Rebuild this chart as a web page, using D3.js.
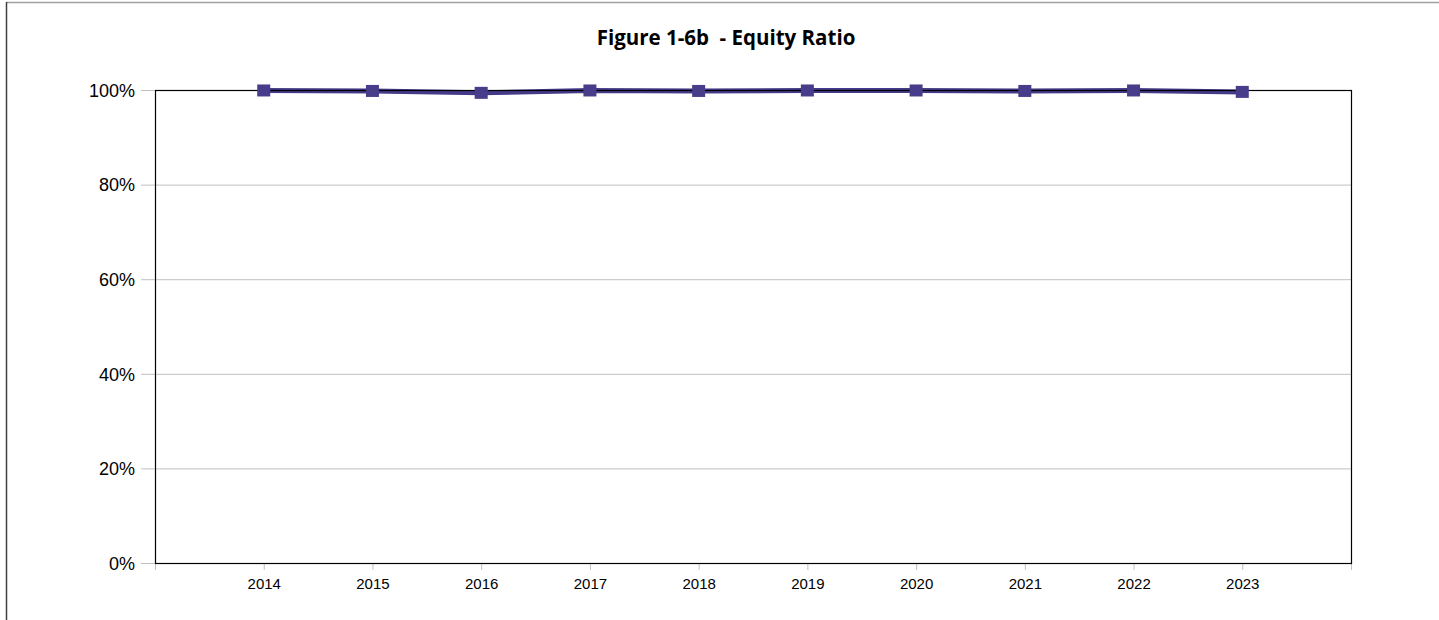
<!DOCTYPE html>
<html lang="en">
<head>
<meta charset="UTF-8">
<title>Figure 1-6b - Equity Ratio</title>
<script src="https://cdn.jsdelivr.net/npm/d3@7"></script>
<style>
  body { margin: 0; background: #fff; }
  svg { display: block; }
</style>
</head>
<body>
<div id="chart"></div>
<script>
// values (equity ratio, %)
var years = [2014, 2015, 2016, 2017, 2018, 2019, 2020, 2021, 2022, 2023];
var ratio = [99.9, 99.8, 99.4, 99.9, 99.8, 99.9, 99.9, 99.8, 99.9, 99.6];
var yTicks = [0, 20, 40, 60, 80, 100];

var W = 1439, H = 620;
var m = {left: 155, top: 90, right: 88, bottom: 57};

var svg = d3.select("#chart").append("svg").attr("width", W).attr("height", H);

// outer frame
svg.append("line").attr("x1", 6).attr("x2", W).attr("y1", 2.5).attr("y2", 2.5)
  .attr("stroke", "#a0a0a0").attr("stroke-width", 1.5);
svg.append("line").attr("x1", 6.5).attr("x2", 6.5).attr("y1", 2).attr("y2", H)
  .attr("stroke", "#404040").attr("stroke-width", 1.5);

svg.append("text").attr("x", 726).attr("y", 45).attr("text-anchor", "middle")
  .style("font-family", "'Open Sans', 'Noto Sans', sans-serif").style("font-weight", "bold")
  .style("font-size", "20.5px").attr("fill", "#000")
  .text("Figure 1-6b  - Equity Ratio").attr("xml:space", "preserve");

var x = d3.scaleLinear().domain([2013, 2024]).range([m.left, W - m.right]);
var y = d3.scaleLinear().domain([0, 100]).range([H - m.bottom, m.top]);

// gridlines + y axis
var gy = svg.append("g").attr("transform", "translate(" + m.left + ",0)")
  .call(d3.axisLeft(y).tickValues(yTicks).tickSize(14).tickFormat(function(d){ return d + "%"; }));
gy.select(".domain").remove();
gy.selectAll(".tick line").attr("stroke", "#c0c0c0");
gy.selectAll(".tick text").attr("x", -20).attr("dy", "0.35em").attr("fill", "#000")
  .style("font-family", "'Liberation Sans', Arial, sans-serif").style("font-size", "18px");
svg.append("g").selectAll("line").data(yTicks.filter(function(d){ return d > 0 && d < 100; }))
  .enter().append("line")
  .attr("x1", m.left).attr("x2", W - m.right)
  .attr("y1", function(d){ return y(d) + 0.5; }).attr("y2", function(d){ return y(d) + 0.5; })
  .attr("stroke", "#c0c0c0");

// x axis
var gx = svg.append("g").attr("transform", "translate(0," + (H - m.bottom) + ")")
  .call(d3.axisBottom(x).tickValues(d3.range(2013, 2025)).tickSize(7)
    .tickFormat(function(d){ return (d >= 2014 && d <= 2023) ? d : ""; }));
gx.select(".domain").remove();
gx.selectAll(".tick line").attr("stroke", "#c0c0c0");
gx.selectAll(".tick text").attr("y", 15).attr("fill", "#000")
  .style("font-family", "'Liberation Sans', Arial, sans-serif").style("font-size", "15px");

var pts = years.map(function(d, i){ return [x(d), y(ratio[i])]; });

svg.append("path").datum(pts)
  .attr("d", d3.line())
  .attr("fill", "none").attr("stroke", "#433a88").attr("stroke-width", 5);

// plot frame (drawn over the line, as in the original)
svg.append("rect").attr("x", m.left + 0.5).attr("y", m.top + 0.5)
  .attr("width", W - m.right - m.left).attr("height", H - m.bottom - m.top)
  .attr("fill", "none").attr("stroke", "#000").attr("stroke-width", 1.2);

svg.selectAll("rect.mk").data(pts).enter().append("rect").attr("class", "mk")
  .attr("x", function(d){ return d[0] - 6.5; }).attr("y", function(d){ return d[1] - 6; })
  .attr("width", 13).attr("height", 12).attr("fill", "#483d8b");
</script>
</body>
</html>
